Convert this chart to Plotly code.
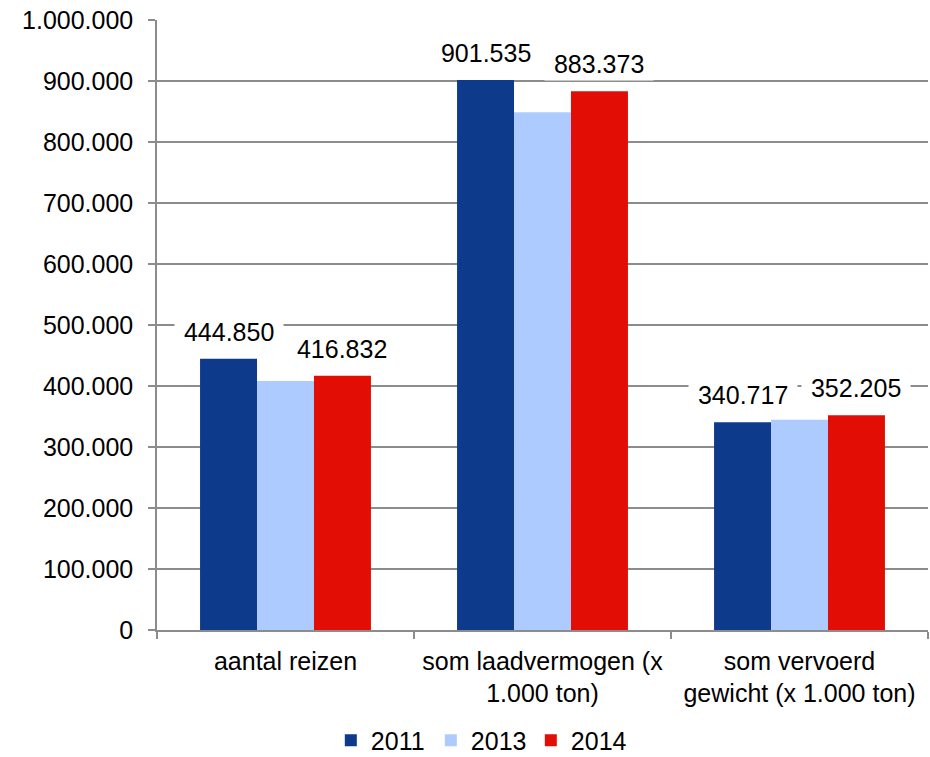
import plotly.graph_objects as go

categories = [
    "aantal reizen",
    "som laadvermogen (x<br>1.000 ton)",
    "som vervoerd<br>gewicht (x 1.000 ton)",
]
years = ["2011", "2013", "2014"]
values_2011 = [444850, 901535, 340717]
values_2013 = [408200, 848700, 344700]
values_2014 = [416832, 883373, 352205]
colors = ["#0D3A8A", "#ADCBFF", "#E20E05"]

series = [values_2011, values_2013, values_2014]
labeled = {"2011": values_2011, "2014": values_2014}

font_family = "Liberation Sans, Arial, sans-serif"
grid_color = "#8C8C8C"

fig = go.Figure()
for year, vals, col in zip(years, series, colors):
    fig.add_trace(
        go.Bar(
            x=categories,
            y=vals,
            name=year,
            marker=dict(color=col, line=dict(width=0)),
        )
    )

# data labels with white background (only 2011 and 2014 in the original)
bar_w = (1 - 0.335) / 3
offsets = {"2011": -bar_w, "2014": bar_w}
for year, vals in labeled.items():
    for i, v in enumerate(vals):
        label = f"{v:,}".replace(",", ".")
        fig.add_annotation(
            x=i + offsets[year],
            y=v,
            xref="x",
            yref="y",
            text="\u00a0" + label + "\u00a0",
            showarrow=False,
            yanchor="bottom",
            yshift=10,
            bgcolor="white",
            borderpad=2,
            font=dict(family=font_family, size=25, color="black"),
        )

fig.update_layout(
    width=930,
    height=757,
    margin=dict(l=157, r=2, t=20, b=127, autoexpand=False),
    plot_bgcolor="white",
    paper_bgcolor="white",
    barmode="group",
    bargap=0.335,
    bargroupgap=0,
    separators=",.",
    font=dict(family=font_family, size=25, color="black"),
    legend=dict(
        orientation="h",
        x=0.42,
        xanchor="center",
        y=-0.181,
        yanchor="middle",
        font=dict(size=25),
        itemwidth=30,
        entrywidth=55,
    ),
)

fig.update_yaxes(
    range=[0, 1000000],
    tickvals=[0, 100000, 200000, 300000, 400000, 500000, 600000, 700000, 800000, 900000, 1000000],
    tickformat=",d",
    showgrid=True,
    gridcolor=grid_color,
    gridwidth=1.5,
    showline=True,
    linecolor=grid_color,
    linewidth=1.5,
    ticks="outside",
    ticklen=7,
    tickcolor=grid_color,
    tickwidth=1.5,
    zeroline=False,
    ticklabelstandoff=10,
    tickfont=dict(size=25),
)
fig.update_xaxes(
    showline=True,
    linecolor=grid_color,
    linewidth=1.5,
    ticks="outside",
    tickson="boundaries",
    ticklen=7,
    tickcolor=grid_color,
    tickwidth=1.5,
    showgrid=False,
    ticklabelstandoff=8,
    tickfont=dict(size=25),
)

fig.write_html(
    "out.html",
    config={"displayModeBar": False},
    post_script="document.body.style.margin='0';document.body.style.overflow='hidden';",
)
